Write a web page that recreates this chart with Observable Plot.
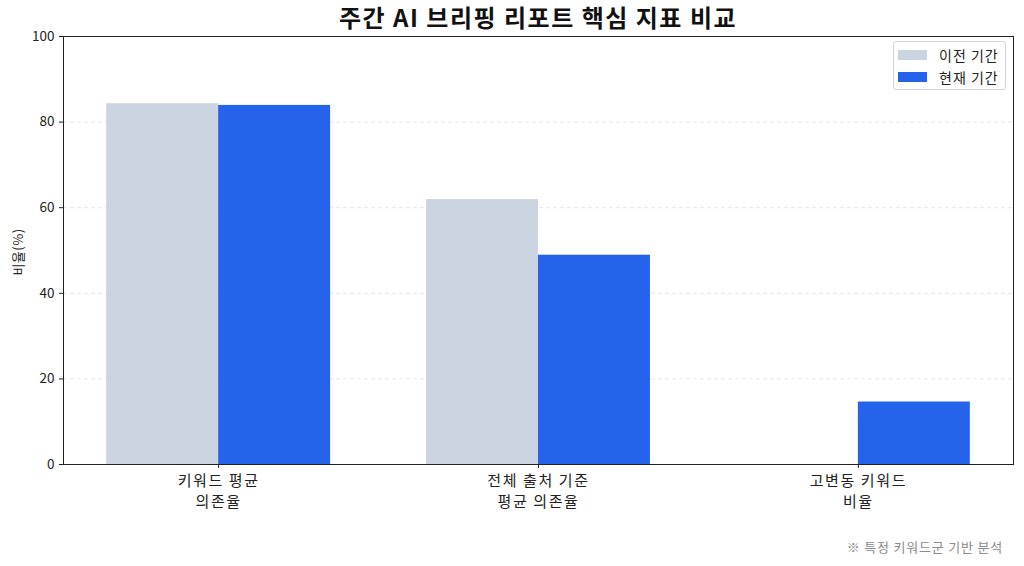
<!DOCTYPE html>
<html>
<head>
<meta charset="utf-8">
<script src="https://cdn.jsdelivr.net/npm/d3@7"></script>
<script src="https://cdn.jsdelivr.net/npm/@observablehq/plot@0.6"></script>
<style>
  body { margin: 0; background: #fff; font-family: "Noto Sans CJK KR", "Noto Sans", sans-serif; }
  #wrap { position: relative; width: 1024px; height: 566px; overflow: hidden; }
  #title { position: absolute; left: 63px; width: 950px; top: -1px; text-align: center; font-size: 24px; letter-spacing: 1.5px; font-weight: 700; color: #111; }
  #chart { position: absolute; left: 0; top: 26px; }
  #chart g[aria-label="x-axis tick label"] { letter-spacing: 1.6px; }
  #legend { position: absolute; left: 893px; top: 41px; width: 113px; height: 49px; border: 1px solid #d4d4d4; border-radius: 3px; background: #fff; font-size: 14px; letter-spacing: 1px; color: #222; box-sizing: border-box; padding: 2px 0 0 4px; }
  #legend .row { display: flex; align-items: center; height: 22px; }
  #legend .sw { width: 29px; height: 10px; margin-right: 12px; }
  #caption { position: absolute; right: 21px; top: 537px; font-size: 13px; letter-spacing: 0.8px; color: #8a8a8a; }
  #ylabel { position: absolute; left: 17px; top: 252px; transform: translate(-50%,-50%) rotate(-90deg); font-size: 13px; letter-spacing: 0.5px; color: #222; white-space: nowrap; }
</style>
</head>
<body>
<div id="wrap">
  <div id="title"></div>
  <div id="chart"></div>
  <div id="legend"></div>
  <div id="caption"></div>
</div>
<script>
const titleText = "주간 AI 브리핑 리포트 핵심 지표 비교";
const captionText = "※ 특정 키워드군 기반 분석";
const yLabel = "비율(%)";
const categories = ["키워드 평균\n의존율", "전체 출처 기준\n평균 의존율", "고변동 키워드\n비율"];
const seriesNames = ["이전 기간", "현재 기간"];
const seriesColors = ["#cbd5e1", "#2563eb"];
const previousValues = [84.3, 61.9, 0];
const currentValues = [83.9, 48.9, 14.6];
const yTicks = [0, 20, 40, 60, 80, 100];
const gridTicks = [20, 40, 60, 80];

const barWidth = 0.35;
const rows = [];
categories.forEach((c, i) => {
  rows.push({pos: i, k: 0, series: seriesNames[0], value: previousValues[i]});
  rows.push({pos: i, k: 1, series: seriesNames[1], value: currentValues[i]});
});
const xMin = -barWidth, xMax = categories.length - 1 + barWidth;
const xPad = (xMax - xMin) * 0.05;

document.getElementById("title").textContent = titleText;
document.getElementById("caption").textContent = captionText;

const chart = Plot.plot({
  width: 1024,
  height: 500,
  marginTop: 10,
  marginBottom: 62,
  marginLeft: 63,
  marginRight: 11,
  style: {fontFamily: "'Noto Sans CJK KR', 'Noto Sans', sans-serif", fontSize: "12px", color: "#222", background: "transparent"},
  x: {domain: [xMin - xPad, xMax + xPad], axis: null},
  y: {domain: [0, 100], axis: null, label: null},
  color: {domain: seriesNames, range: seriesColors},
  marks: [
    Plot.ruleY(gridTicks, {stroke: "#e5e5e5", strokeDasharray: "4,3", strokeWidth: 1}),
    Plot.rectY(rows, {
      x1: d => d.pos - barWidth + d.k * barWidth,
      x2: d => d.pos + d.k * barWidth,
      y1: 0, y2: "value", fill: "series"
    }),
    Plot.axisY({ticks: yTicks, anchor: "left", tickSize: 4, tickPadding: 5, label: null, fontSize: 13.5, stroke: "#222"}),
    Plot.axisX({ticks: d3.range(categories.length), tickFormat: i => categories[i], anchor: "bottom", tickSize: 4, tickPadding: 3, label: null, fontSize: 15, lineHeight: 1.38, stroke: "#222"}),
    Plot.frame({stroke: "#222", strokeWidth: 1})
  ]
});
document.getElementById("chart").appendChild(chart);

const yl = document.createElement("div");
yl.id = "ylabel";
yl.textContent = yLabel;
document.getElementById("wrap").appendChild(yl);

const legend = document.getElementById("legend");
seriesNames.forEach((s, i) => {
  const r = document.createElement("div");
  r.className = "row";
  const sw = document.createElement("div");
  sw.className = "sw";
  sw.style.background = seriesColors[i];
  const t = document.createElement("span");
  t.textContent = s;
  r.appendChild(sw); r.appendChild(t);
  legend.appendChild(r);
});
</script>
</body>
</html>
